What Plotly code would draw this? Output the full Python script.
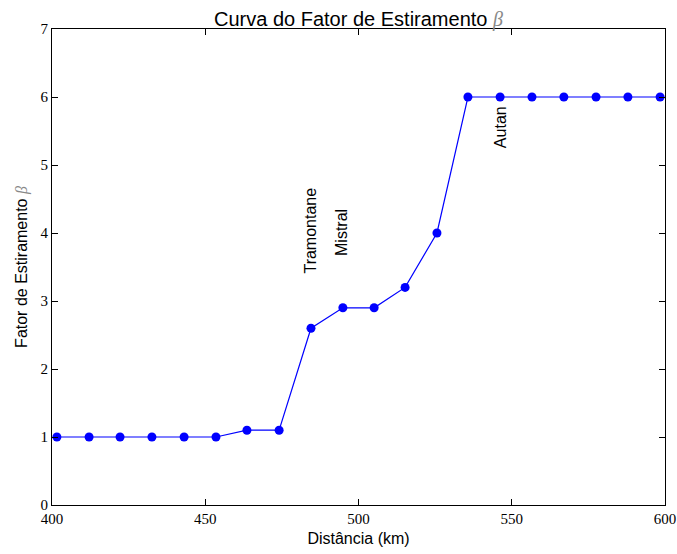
import plotly.graph_objects as go

distancia_km = [401.6, 412.1, 422.2, 432.6, 443.1, 453.5, 463.6, 474.1, 484.5, 494.9,
                505.1, 515.2, 525.6, 535.7, 546.2, 556.6, 567.0, 577.5, 587.9, 598.4]
fator_beta = [1, 1, 1, 1, 1, 1, 1.1, 1.1, 2.6, 2.9,
              2.9, 3.2, 4.0, 6, 6, 6, 6, 6, 6, 6]

rotulos = ["Tramontane", "Mistral", "Autan"]
rotulos_x = [484.3, 494.4, 546.2]
rotulos_y = [3.38, 3.63, 5.22]

xticks = [400, 450, 500, 550, 600]
yticks = [0, 1, 2, 3, 4, 5, 6, 7]

beta = '<span style="font-family:Liberation Serif;color:#888"><i>β</i></span>'

fig = go.Figure()
fig.add_trace(go.Scatter(
    x=distancia_km, y=fator_beta, mode="lines+markers",
    line=dict(color="#0000ff", width=1.2),
    marker=dict(color="#0000ff", size=9),
    showlegend=False,
))

for t, x, y in zip(rotulos, rotulos_x, rotulos_y):
    fig.add_annotation(x=x, y=y, text=t, textangle=-90, showarrow=False,
                       xanchor="center", yanchor="bottom",
                       font=dict(family="Liberation Sans", size=16, color="black"))

axis_common = dict(showgrid=False, zeroline=False, showline=True, linecolor="black",
                   linewidth=1.2, mirror="ticks", ticks="inside", ticklen=6,
                   tickcolor="black", tickwidth=1, automargin=False,
                   tickfont=dict(family="Liberation Serif", size=15, color="black"))

fig.update_xaxes(range=[400, 600], tickvals=xticks, ticktext=[str(v) for v in xticks],
                 title=dict(text="Distância (km)", font=dict(family="Liberation Sans", size=16, color="black"), standoff=6),
                 **axis_common)
fig.update_yaxes(range=[0, 7], tickvals=yticks, ticktext=[str(v) for v in yticks],
                 title=dict(text="Fator de Estiramento " + beta, font=dict(family="Liberation Sans", size=16, color="black"), standoff=8),
                 **axis_common)

fig.update_layout(
    width=677, height=554,
    margin=dict(l=52, r=12, t=29, b=49),
    paper_bgcolor="white", plot_bgcolor="white",
    title=dict(text="Curva do Fator de Estiramento " + beta, x=0.5, xref="paper",
               y=1, yref="paper", yanchor="bottom", pad=dict(b=3),
               font=dict(family="Liberation Sans", size=20, color="black")),
)

fig.write_html("out.html", config={"displayModeBar": False},
               post_script="document.body.style.margin='0';")
